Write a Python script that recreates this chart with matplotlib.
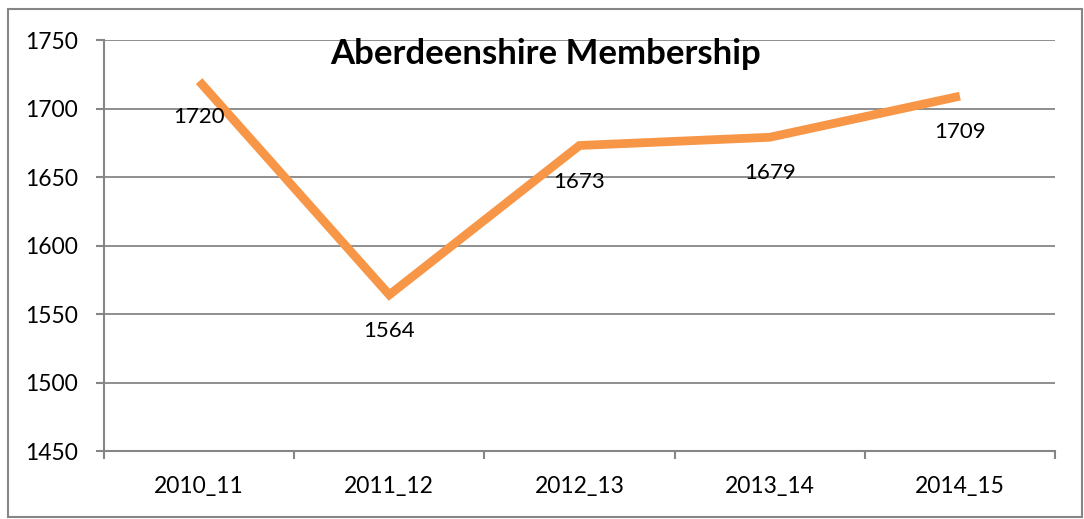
import matplotlib.pyplot as plt
from matplotlib.patches import Rectangle
from matplotlib.ticker import FixedLocator, MultipleLocator

plt.rcParams['font.family'] = ['Lato', 'DejaVu Sans']

seasons = ['2010_11', '2011_12', '2012_13', '2013_14', '2014_15']
members = [1720, 1564, 1673, 1679, 1709]

fig = plt.figure(figsize=(10.84, 5.19), dpi=100)
ax = fig.add_axes([104/1084, 68/519, 951/1084, 411/519])

x = range(len(seasons))
ax.plot(x, members, color='#F79646', linewidth=6.3, solid_capstyle='butt', solid_joinstyle='miter')

for xi, v in zip(x, members):
    ax.annotate(str(v), (xi, v), xytext=(0, -26), textcoords='offset points',
                ha='center', va='center', fontsize=16, color='black')

ax.set_xlim(-0.5, len(seasons) - 0.5)
ax.set_ylim(1450, 1750)
ax.yaxis.set_major_locator(MultipleLocator(50))
ax.set_xticks(list(x))
ax.set_xticklabels(seasons)
ax.xaxis.set_minor_locator(FixedLocator([i - 0.5 for i in range(len(seasons) + 1)]))
ax.tick_params(axis='x', which='major', length=0, pad=18, labelsize=16.5)
ax.tick_params(axis='x', which='minor', length=6, width=1.5, color='#868686', direction='out')
ax.tick_params(axis='y', length=6, width=1.5, color='#868686', pad=13, labelsize=16.5)

ax.grid(axis='y', color='#868686', linewidth=1.3)
ax.set_axisbelow(True)
for s in ['top', 'right']:
    ax.spines[s].set_visible(False)
for s in ['left', 'bottom']:
    ax.spines[s].set_color('#868686')
    ax.spines[s].set_linewidth(1.5)

fig.text(546/1084, 1 - 54/519, 'Aberdeenshire Membership', ha='center', va='center',
         fontsize=25, fontweight='bold')

fig.patches.append(Rectangle((8/1084, 2/519), 1074/1084, 508/519, transform=fig.transFigure,
                             fill=False, edgecolor='#868686', linewidth=1.5))

fig.savefig('out.png', dpi=100)
